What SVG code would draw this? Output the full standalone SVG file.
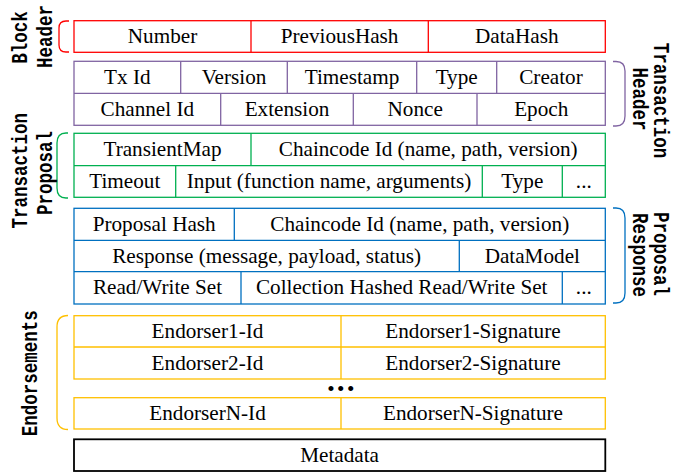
<svg xmlns="http://www.w3.org/2000/svg" width="673" height="474" viewBox="0 0 673 474">
  <style>
    .cell { fill: #ffffff; stroke-width: 1.3; }
    .div { stroke-width: 1.3; fill: none; }
    .brk { fill: none; stroke-width: 1.3; }
    .t { font-family: "Liberation Serif", "Times New Roman", serif; font-size: 21.2px; fill: #000; text-anchor: middle; }
    .lbl { font-family: "Liberation Mono", "Courier New", monospace; font-weight: bold; font-size: 17.5px; fill: #000; text-anchor: middle; }
    .red { stroke: #ff0000; }
    .purple { stroke: #8064a2; }
    .green { stroke: #00b050; }
    .blue { stroke: #0070c0; }
    .gold { stroke: #ffc000; }
    .black { stroke: #000000; }
  </style>
  <rect width="673" height="474" fill="#ffffff"/>

  <!-- side brackets -->
  <g id="connectors">
    <path class="brk red" d="M69,21 H66 Q59,21 59,28 V45 Q59,52 66,52 H69"/>
    <path class="brk purple" d="M613,61.5 H616 Q625,61.5 625,71 V116 Q625,126 616,126 H613"/>
    <path class="brk green" d="M68,133 H66 Q57,133 57,143 V188 Q57,198 66,198 H68"/>
    <path class="brk blue" d="M613,208 H616 Q625,208 625,218 V293 Q625,303 616,303 H613"/>
    <path class="brk gold" d="M68,315.5 Q57,315.5 57,327 V418 Q57,429.5 68,429.5"/>
  </g>

  <!-- side labels (glyphs stretched across the line) -->
  <g id="labels">
    <text class="lbl" transform="translate(27,37.5) rotate(-90) scale(1,1.22)">Block</text>
    <text class="lbl" transform="translate(51.5,36.5) rotate(-90) scale(1,1.22)">Header</text>
    <text class="lbl" transform="translate(27,170.7) rotate(-90) scale(1,1.22)">Transaction</text>
    <text class="lbl" transform="translate(51.5,173) rotate(-90) scale(1,1.22)">Proposal</text>
    <text class="lbl" transform="translate(36.5,373.3) rotate(-90) scale(1,1.22)">Endorsements</text>
    <text class="lbl" transform="translate(654,100.5) rotate(90) scale(1,1.22)">Transaction</text>
    <text class="lbl" transform="translate(632.5,99) rotate(90) scale(1,1.22)">Header</text>
    <text class="lbl" transform="translate(654,254) rotate(90) scale(1,1.22)">Proposal</text>
    <text class="lbl" transform="translate(632.5,255) rotate(90) scale(1,1.22)">Response</text>
  </g>

  <!-- block header -->
  <g id="block-header">
    <rect class="cell red" x="74" y="20.7" width="531.3" height="31.6"/>
    <path class="div red" d="M251,20.7 V52.3 M428.3,20.7 V52.3"/>
    <text class="t" x="162.5" y="43">Number</text>
    <text class="t" x="339.6" y="43">PreviousHash</text>
    <text class="t" x="516.8" y="43">DataHash</text>
  </g>

  <!-- transaction header -->
  <g id="transaction-header">
    <rect class="cell purple" x="74" y="61.3" width="531.3" height="64"/>
    <path class="div purple" d="M74,93.3 H605.3 M180.7,61.3 V93.3 M287.3,61.3 V93.3 M416.7,61.3 V93.3 M496.7,61.3 V93.3 M220.7,93.3 V125.3 M353.3,93.3 V125.3 M477,93.3 V125.3"/>
    <text class="t" x="127.3" y="84">Tx Id</text>
    <text class="t" x="234" y="84">Version</text>
    <text class="t" x="352" y="84">Timestamp</text>
    <text class="t" x="456.7" y="84">Type</text>
    <text class="t" x="551" y="84">Creator</text>
    <text class="t" x="147.3" y="116">Channel Id</text>
    <text class="t" x="287" y="116">Extension</text>
    <text class="t" x="415.2" y="116">Nonce</text>
    <text class="t" x="541.2" y="116">Epoch</text>
  </g>

  <!-- transaction proposal -->
  <g id="transaction-proposal">
    <rect class="cell green" x="74" y="133.3" width="531.3" height="64"/>
    <path class="div green" d="M74,165.7 H605.3 M251,133.3 V165.7 M175.7,165.7 V197.3 M482.3,165.7 V197.3 M562.3,165.7 V197.3"/>
    <text class="t" x="428.2" y="156">Chaincode Id (name, path, version)</text>
    <text class="t" x="162.5" y="156">TransientMap</text>
    <text class="t" x="124.8" y="188">Timeout</text>
    <text class="t" x="329" y="188">Input (function name, arguments)</text>
    <text class="t" x="522.3" y="188">Type</text>
    <text class="t" x="583.8" y="188">...</text>
  </g>

  <!-- proposal response -->
  <g id="proposal-response">
    <rect class="cell blue" x="74" y="208.3" width="531.3" height="95.7"/>
    <path class="div blue" d="M74,240.3 H605.3 M74,271.7 H605.3 M234.3,208.3 V240.3 M459.3,240.3 V271.7 M241,271.7 V304 M562.3,271.7 V304"/>
    <text class="t" x="154.2" y="231">Proposal Hash</text>
    <text class="t" x="419.8" y="231">Chaincode Id (name, path, version)</text>
    <text class="t" x="266.7" y="262.5">Response (message, payload, status)</text>
    <text class="t" x="532.3" y="262.5">DataModel</text>
    <text class="t" x="157.5" y="294">Read/Write Set</text>
    <text class="t" x="401.7" y="294">Collection Hashed Read/Write Set</text>
    <text class="t" x="583.8" y="294">...</text>
  </g>

  <!-- endorsements -->
  <g id="endorsements">
    <rect class="cell gold" x="74" y="315.7" width="531.3" height="63.3"/>
    <path class="div gold" d="M74,347 H605.3 M341,315.7 V379"/>
    <rect class="cell gold" x="74" y="397.7" width="531.3" height="31.3"/>
    <path class="div gold" d="M341,397.7 V429"/>
    <text class="t" x="207.5" y="338">Endorser1-Id</text>
    <text class="t" x="473" y="338">Endorser1-Signature</text>
    <text class="t" x="207.5" y="369.5">Endorser2-Id</text>
    <text class="t" x="473" y="369.5">Endorser2-Signature</text>
    <text class="t" x="342" y="396" style="letter-spacing:2.4px">•••</text>
    <text class="t" x="207.5" y="420">EndorserN-Id</text>
    <text class="t" x="473" y="420">EndorserN-Signature</text>
  </g>

  <!-- metadata -->
  <g id="metadata">
    <rect class="cell black" x="74" y="439.3" width="531.3" height="31.7" style="stroke-width:1.8"/>
    <text class="t" x="339.6" y="461.5">Metadata</text>
  </g>
</svg>
